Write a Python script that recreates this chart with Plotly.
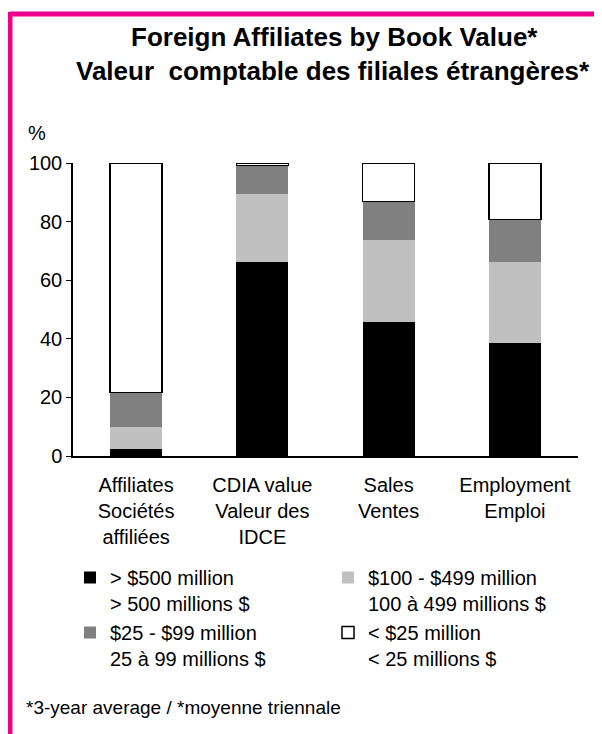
import plotly.graph_objects as go

# dados (%)
categorias = ["Affiliates<br>Sociétés<br>affiliées",
              "CDIA value<br>Valeur des<br>IDCE",
              "Sales<br>Ventes",
              "Employment<br>Emploi"]
acima_500 = [2.3, 66.2, 45.8, 38.5]
de_100_499 = [7.5, 23.2, 27.9, 27.7]
de_25_99 = [11.8, 9.7, 13.1, 14.6]
abaixo_25 = [78.4, 0.9, 13.2, 19.2]

nomes = ["> $500 million<br>> 500 millions $",
         "$100 - $499 million<br>100 à 499 millions $",
         "$25 - $99 million<br>25 à 99 millions $",
         "< $25 million<br>< 25 millions $"]
cores = ["#000000", "#c0c0c0", "#808080", "#ffffff"]
legendas = ["legend", "legend2", "legend", "legend2"]
series = [acima_500, de_100_499, de_25_99, abaixo_25]

# a pagina tem margem de 8px no body, entao tudo e medido na tela e descontado
OFF = 8
W, H = 602 - OFF, 734 - OFF
L, T = 73 - OFF, 163 - OFF
R, B = W - (578 - OFF), H - (456 - OFF)
pw, ph = W - L - R, H - T - B


# converte pixel da tela para coordenada paper
def px_x(px):
    return (px - OFF - L) / pw


def px_y(py):
    return (H - B - (py - OFF)) / ph


fig = go.Figure()
x = list(range(len(categorias)))
for i, (nome, cor, leg, vals) in enumerate(zip(nomes, cores, legendas, series)):
    borda = 1.5 if cor == "#ffffff" else 0
    fig.add_trace(go.Bar(
        x=x, y=vals, name=nome, width=0.41, legend=leg, legendgroup=f"g{i}",
        marker=dict(color=cor, line=dict(color="#000000", width=borda)),
    ))

pink = "#ec008c"
leg_base = dict(orientation="v", xanchor="left", yanchor="top", valign="top",
                traceorder="normal", font=dict(size=20), bgcolor="rgba(0,0,0,0)",
                tracegroupgap=7)
fig.update_layout(
    width=W, height=H,
    barmode="stack",
    paper_bgcolor="white", plot_bgcolor="white",
    margin=dict(l=L, r=R, t=T, b=B, autoexpand=False),
    font=dict(family="Liberation Sans, Arial", size=20, color="black"),
    xaxis=dict(tickvals=x, ticktext=categorias, range=[-0.5, 3.5],
               showline=True, linecolor="black", linewidth=1.5,
               ticks="", showgrid=False, ticklabelstandoff=10),
    yaxis=dict(range=[0, 100], dtick=20, showline=True, linecolor="black",
               linewidth=1.5, ticks="outside", ticklen=5, tickcolor="black",
               showgrid=False, zeroline=False),
    legend=dict(x=px_x(70), y=px_y(558), **leg_base),
    legend2=dict(x=px_x(328), y=px_y(558), **leg_base),
    showlegend=True,
)

# titulo em duas linhas
fig.add_annotation(text="<b>Foreign Affiliates by Book Value*</b>", x=px_x(334), y=px_y(37),
                   xref="paper", yref="paper", xanchor="center", yanchor="middle",
                   showarrow=False, font=dict(size=26))
fig.add_annotation(text="<b>Valeur  comptable des filiales étrangères*</b>", x=px_x(333),
                   y=px_y(71), xref="paper", yref="paper", xanchor="center",
                   yanchor="middle", showarrow=False, font=dict(size=26))

fig.add_annotation(text="%", x=px_x(26), y=px_y(133), xref="paper", yref="paper",
                   xanchor="left", yanchor="middle", showarrow=False, font=dict(size=20))
fig.add_annotation(text="*3-year average / *moyenne triennale", x=px_x(24), y=px_y(707),
                   xref="paper", yref="paper", xanchor="left", yanchor="middle",
                   showarrow=False, font=dict(size=19))

# moldura rosa
fig.add_shape(type="line", xref="paper", yref="paper", x0=px_x(10), x1=px_x(602),
              y0=px_y(14), y1=px_y(14), line=dict(color=pink, width=5))
fig.add_shape(type="line", xref="paper", yref="paper", x0=px_x(10), x1=px_x(10),
              y0=px_y(12), y1=px_y(734), line=dict(color=pink, width=5))

fig.write_html("out.html")
